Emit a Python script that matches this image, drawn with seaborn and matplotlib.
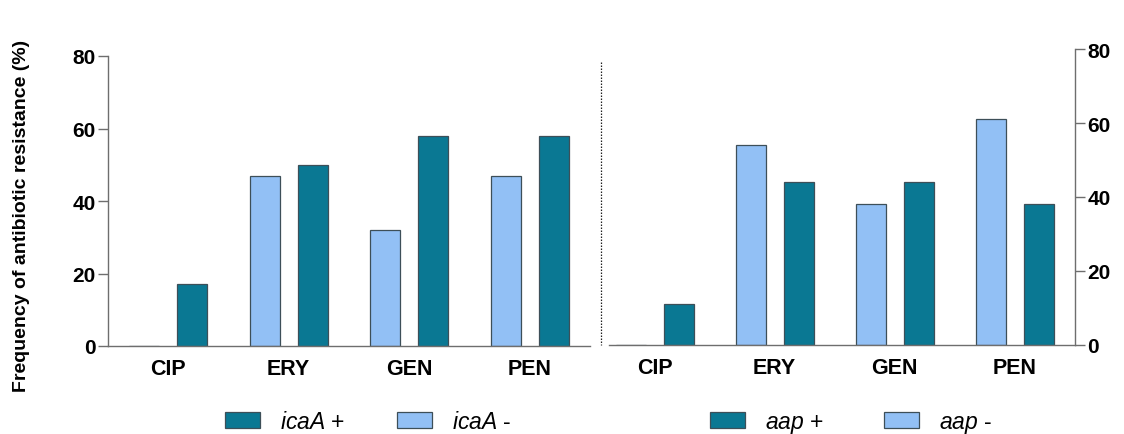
import matplotlib
matplotlib.use("Agg")
import matplotlib.pyplot as plt
import seaborn as sns
import pandas as pd
from matplotlib.lines import Line2D

sns.set_style("white")
plt.rcParams['font.family'] = ['Liberation Sans', 'DejaVu Sans']
plt.rcParams['mathtext.fontset'] = 'custom'
plt.rcParams['mathtext.it'] = 'Liberation Sans:italic'
plt.rcParams['mathtext.rm'] = 'Liberation Sans'
plt.rcParams['text.color'] = 'black'

antibiotics = ["CIP", "ERY", "GEN", "PEN"]
icaA_pos = [17, 50, 58, 58]
icaA_neg = [0, 47, 32, 47]
aap_pos = [11, 44, 44, 38]
aap_neg = [0, 54, 38, 61]
yticks = [0, 20, 40, 60, 80]
ylabel = "Frequency of antibiotic resistance (%)"

TEAL = "#0a7893"
LIGHT = "#92c0f5"
EDGE = "#3d4f58"
SPINE = "#6e6e6e"

W, H = 1124, 435
fig = plt.figure(figsize=(W/100, H/100), dpi=100)
axL = fig.add_axes([108/W, 1-347/H, 482/W, 290/H])
axR = fig.add_axes([609/W, 1-346/H, 466/W, 296/H])


def make_df(gene, pos, neg):
    rows = []
    for a, p, n in zip(antibiotics, pos, neg):
        rows.append({"ab": a, "grp": f"{gene} -", "val": n})
        rows.append({"ab": a, "grp": f"{gene} +", "val": p})
    return pd.DataFrame(rows)


LFS = 16.5
em = LFS * 100 / 72.0
for ax, gene, pos, neg, side, lx, cs in [(axL, "icaA", icaA_pos, icaA_neg, "left", 225, 52),
                                          (axR, "aap", aap_pos, aap_neg, "right", 710, 60)]:
    df = make_df(gene, pos, neg)
    sns.barplot(data=df, x="ab", y="val", hue="grp",
                order=antibiotics, hue_order=[f"{gene} -", f"{gene} +"],
                palette={f"{gene} -": LIGHT, f"{gene} +": TEAL},
                gap=0.375, width=0.8, edgecolor=EDGE, linewidth=0.9,
                saturation=1, ax=ax, legend=True)
    ax.set_ylim(0, 80)
    ax.set_yticks(yticks)
    ax.set_xlabel("")
    ax.set_ylabel("")
    for s in ax.spines.values():
        s.set_color(SPINE)
        s.set_linewidth(1.0)
    ax.spines["top"].set_visible(False)
    if side == "left":
        ax.spines["right"].set_visible(False)
        ax.set_xlim(-0.5, 3.5)
    else:
        ax.spines["left"].set_visible(False)
        ax.yaxis.tick_right()
        ax.set_xlim(-0.38, 3.5)
    ax.tick_params(axis="y", which="both", length=7, width=1, color=SPINE,
                   labelcolor="black", pad=2, labelsize=15,
                   left=(side == "left"), right=(side == "right"))
    ax.tick_params(axis="x", length=0, pad=9, labelsize=15.5, labelcolor="black")
    for lab in ax.get_yticklabels() + ax.get_xticklabels():
        lab.set_fontweight("bold")
    handles, labels = ax.get_legend_handles_labels()
    ax.get_legend().remove()
    h = [handles[1], handles[0]]
    l = [rf"$\it{{{gene}}}$ +", rf"$\it{{{gene}}}$ -"]
    ax.legend(h, l, loc="upper left", bbox_to_anchor=(lx/W, 1-411/H),
              bbox_transform=fig.transFigure, ncol=2, borderpad=0, borderaxespad=0,
              frameon=False, fontsize=LFS, handlelength=35/em, handleheight=15/em,
              handletextpad=20/em, columnspacing=cs/em, labelcolor="black")

fig.text(22/W, 1-216/H, ylabel, rotation=90, ha="center", va="center",
         fontsize=14, fontweight="bold", color="black")

fig.add_artist(Line2D([601/W, 601/W], [1-63/H, 1-346/H],
                      transform=fig.transFigure, color="#222222",
                      linestyle=(0, (1.2, 1.2)), linewidth=0.9))

fig.savefig("out.png", dpi=100)
